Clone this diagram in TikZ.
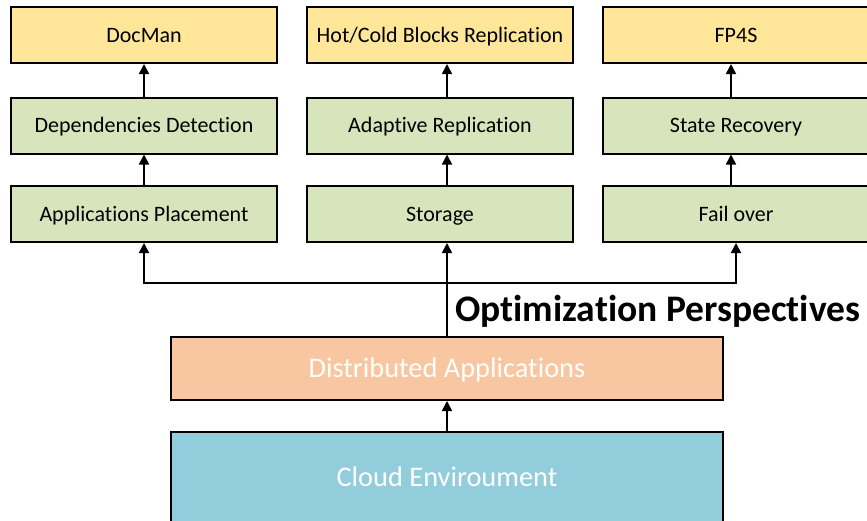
\documentclass[tikz,border=0pt]{standalone}
\usepackage{fontspec}
\setmainfont{Carlito}[Ligatures={NoCommon,NoContextual}]
\usetikzlibrary{arrows.meta}
\definecolor{goldfill}{HTML}{FFE699}
\definecolor{olivefill}{HTML}{D8E4BC}
\definecolor{peachfill}{HTML}{F8C6A0}
\definecolor{aquafill}{HTML}{92CDDC}
\tikzset{
  boxbase/.style={draw=black, line width=2pt, inner sep=0pt, anchor=center},
  smalltext/.style={font=\fontsize{22}{24}\selectfont, text height=14pt, text depth=0pt},
  goalbox/.style={boxbase, smalltext, fill=goldfill, minimum width=266pt, minimum height=56pt},
  stagebox/.style={boxbase, smalltext, fill=olivefill, minimum width=266pt, minimum height=56pt},
  layerbox/.style={boxbase, minimum width=552pt, text=white,
    font=\fontsize{28.4}{32}\selectfont, text height=18pt, text depth=0pt},
  arr/.style={line width=1.6pt, -{Triangle[width=10pt,length=10pt]}},
}
\begin{document}
\begin{tikzpicture}[x=1pt, y=-1pt]
  \useasboundingbox (0,0) rectangle (867,520);
  \clip (0,0) rectangle (867,520);

  % top row: tools
  \node[goalbox] (dm) at (144,35) {DocMan};
  \node[goalbox] (hc) at (440,35) {Hot/Cold Blocks Replication};
  \node[goalbox] (fp) at (736,35) {FP4S};

  % middle row: techniques
  \node[stagebox] (dd) at (144,125.5) {Dependencies Detection};
  \node[stagebox] (ar) at (440,125.5) {Adaptive Replication};
  \node[stagebox] (sr) at (736,125.5) {State Recovery};

  % lower row: perspectives
  \node[stagebox] (ap) at (144,214) {Applications Placement};
  \node[stagebox] (st) at (440,214) {Storage};
  \node[stagebox] (fo) at (736,214) {Fail over};

  % base layers
  \node[layerbox, fill=peachfill, minimum height=63pt] (da) at (447,368.5) {Distributed Applications};
  \node[layerbox, fill=aquafill, minimum height=90pt] (ce) at (447,477) {Cloud Enviroument};

  \node[anchor=base west, inner sep=0pt, font=\fontsize{37.5}{40}\selectfont\bfseries] (op) at (455,321) {Optimization Perspectives};

  % vertical chains
  \draw[arr] (ap.north) -- (dd.south);
  \draw[arr] (dd.north) -- (dm.south);
  \draw[arr] ([xshift=7pt]st.north) -- ([xshift=7pt]ar.south);
  \draw[arr] ([xshift=7pt]ar.north) -- ([xshift=7pt]hc.south);
  \draw[arr] ([xshift=-5pt]fo.north) -- ([xshift=-5pt]sr.south);
  \draw[arr] ([xshift=-5pt]sr.north) -- ([xshift=-5pt]fp.south);

  % distribution bus from the application layer
  \coordinate (bus) at (447,283);
  \draw[arr] (da.north) -- (st.south -| da.north);
  \draw[arr] (bus) -| (ap.south);
  \draw[arr] (bus) -| (fo.south);
  \draw[arr] (ce.north) -- (da.south);
\end{tikzpicture}
\end{document}
